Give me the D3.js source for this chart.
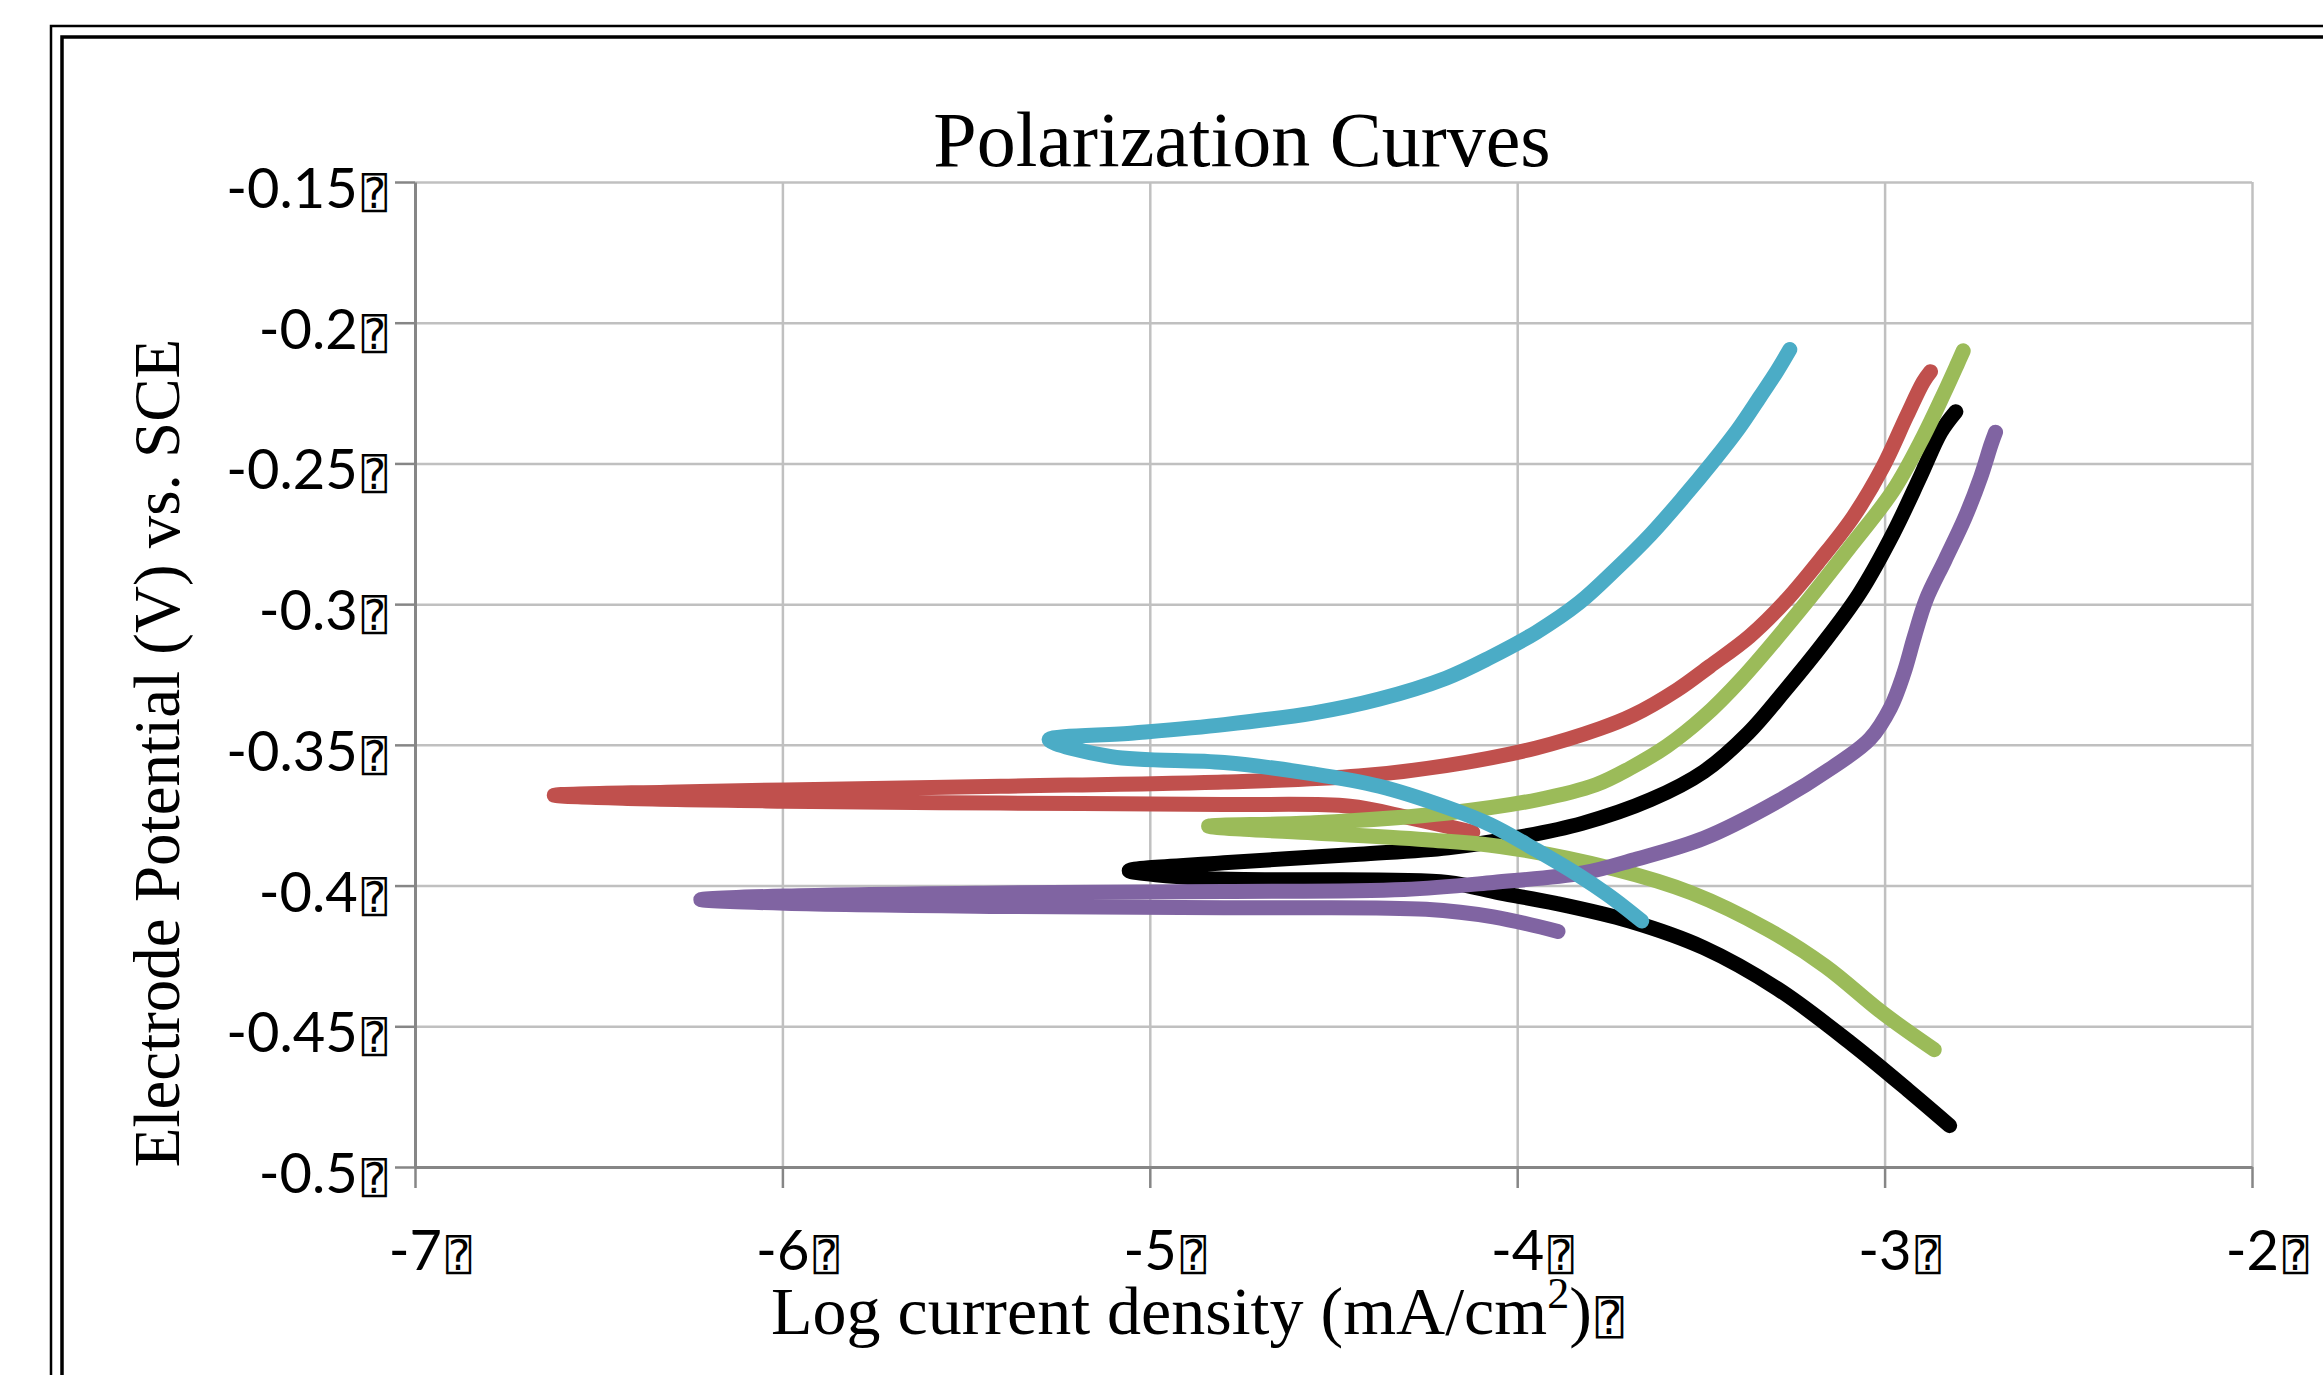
<!DOCTYPE html>
<html><head><meta charset="utf-8">
<script src="https://cdn.jsdelivr.net/npm/d3@7/dist/d3.min.js"></script>
<style>html,body{margin:0;padding:0;background:#fff;overflow:hidden}</style>
</head><body>
<svg id="chart" width="2323" height="1375" xmlns="http://www.w3.org/2000/svg"></svg>
<script>
// ---------- data ----------
const chartTitle = "Polarization Curves";
const xTitle = "Log current density (mA/cm";
const yTitle = "Electrode Potential (V) vs. SCE";
const missingGlyph = "\u2370";

const xTicks = [-7, -6, -5, -4, -3, -2];
const xTickLabels = ["-7", "-6", "-5", "-4", "-3", "-2"];
const yTicks = [-0.5, -0.45, -0.4, -0.35, -0.3, -0.25, -0.2, -0.15];
const yTickLabels = ["-0.5", "-0.45", "-0.4", "-0.35", "-0.3", "-0.25", "-0.2", "-0.15"];

// each point: [log current density, potential V vs SCE], in scan order
const curveBlack = [
  [-2.823,-0.4853],[-2.927,-0.4737],[-3.089,-0.4563],[-3.290,-0.4368],[-3.492,-0.4221],
  [-3.694,-0.4126],[-3.895,-0.4063],[-4.048,-0.4026],[-4.190,-0.3989],[-4.673,-0.3979],
  [-4.863,-0.3974],[-5.056,-0.3947],
  [-4.798,-0.3919],[-4.431,-0.3889],[-4.188,-0.3866],[-4.004,-0.3830],[-3.823,-0.3779],
  [-3.637,-0.3695],[-3.492,-0.3595],[-3.371,-0.3458],[-3.270,-0.3305],[-3.169,-0.3142],
  [-3.069,-0.2963],[-2.976,-0.2747],[-2.903,-0.2547],[-2.847,-0.2389],[-2.806,-0.2316]
];
const curveRed = [
  [-4.121,-0.3811],[-4.188,-0.3790],[-4.308,-0.3755],[-4.456,-0.3718],[-4.798,-0.3712],
  [-5.407,-0.3707],[-5.992,-0.3700],[-6.435,-0.3690],[-6.621,-0.3679],
  [-6.315,-0.3668],[-5.992,-0.3660],[-5.407,-0.3647],[-4.798,-0.3632],[-4.431,-0.3611],
  [-4.194,-0.3574],[-3.948,-0.3511],[-3.774,-0.3442],[-3.685,-0.3395],[-3.565,-0.3305],
  [-3.476,-0.3221],[-3.367,-0.3114],[-3.266,-0.2984],[-3.175,-0.2842],[-3.085,-0.2689],
  [-3.004,-0.2511],[-2.940,-0.2332],[-2.895,-0.2211],[-2.875,-0.2174]
];
const curveGreen = [
  [-2.865,-0.4583],[-3.005,-0.4453],[-3.161,-0.4287],[-3.317,-0.4157],[-3.526,-0.4026],
  [-3.734,-0.3942],[-4.046,-0.3861],[-4.248,-0.3837],[-4.552,-0.3813],[-4.742,-0.3800],
  [-4.840,-0.3789],
  [-4.552,-0.3777],[-4.188,-0.3742],[-3.944,-0.3695],[-3.786,-0.3642],[-3.694,-0.3584],
  [-3.593,-0.3505],[-3.492,-0.3400],[-3.391,-0.3268],[-3.230,-0.3021],[-3.093,-0.2795],
  [-2.976,-0.2595],[-2.895,-0.2405],[-2.839,-0.2253],[-2.802,-0.2147],[-2.786,-0.2100]
];
const curvePurple = [
  [-3.889,-0.4163],[-4.065,-0.4111],[-4.248,-0.4084],[-4.798,-0.4079],[-5.407,-0.4074],
  [-5.992,-0.4063],[-6.222,-0.4050],
  [-5.992,-0.4037],[-5.407,-0.4026],[-4.798,-0.4021],[-4.308,-0.4014],[-4.065,-0.3989],
  [-3.821,-0.3955],[-3.681,-0.3908],[-3.492,-0.3832],[-3.290,-0.3700],[-3.141,-0.3579],
  [-3.040,-0.3479],[-2.984,-0.3368],[-2.948,-0.3247],[-2.919,-0.3116],[-2.887,-0.2984],
  [-2.835,-0.2842],[-2.782,-0.2695],[-2.738,-0.2547],[-2.710,-0.2432],[-2.698,-0.2389]
];
const curveCyan = [
  [-3.661,-0.4126],[-3.706,-0.4079],[-3.754,-0.4032],[-3.827,-0.3968],[-3.948,-0.3874],
  [-4.073,-0.3784],[-4.194,-0.3721],[-4.375,-0.3647],[-4.556,-0.3603],[-4.798,-0.3563],
  [-5.105,-0.3542],[-5.274,-0.3482],
  [-5.044,-0.3458],[-4.798,-0.3428],[-4.556,-0.3387],[-4.375,-0.3337],[-4.194,-0.3263],
  [-4.073,-0.3189],[-3.948,-0.3100],[-3.831,-0.2995],[-3.730,-0.2874],[-3.637,-0.2753],
  [-3.548,-0.2621],[-3.468,-0.2495],[-3.399,-0.2379],[-3.339,-0.2263],[-3.294,-0.2174],
  [-3.258,-0.2095]
];

const seriesList = [curveBlack, curveRed, curveGreen, curvePurple, curveCyan];
const seriesColors = ["#000000", "#C0504D", "#9BBB59", "#8064A2", "#4BACC6"];

// ---------- layout ----------
const W = 2323, H = 1375;
const plot = {left: 415, right: 2252, top: 182, bottom: 1167};
const svg = d3.select("#chart");

svg.append("rect").attr("x",0).attr("y",0).attr("width",W).attr("height",H).attr("fill","#fff");

// outer frames (run off the picture at right and bottom)
svg.append("rect").attr("x",51).attr("y",26).attr("width",2400).attr("height",1500)
  .attr("fill","none").attr("stroke","#000").attr("stroke-width",2.5);
svg.append("rect").attr("x",62).attr("y",37).attr("width",2400).attr("height",1500)
  .attr("fill","none").attr("stroke","#000").attr("stroke-width",3.5);

const x = d3.scaleLinear().domain([-7, -2]).range([plot.left, plot.right]);
const y = d3.scaleLinear().domain([-0.5, -0.15]).range([plot.bottom, plot.top]);

// gridlines
const gridX = svg.append("g").attr("transform",`translate(0,${plot.bottom})`)
  .call(d3.axisBottom(x).tickValues(xTicks).tickSize(-(plot.bottom-plot.top)).tickFormat(""));
gridX.select(".domain").remove();
gridX.selectAll("line").attr("stroke","#c0c0c0").attr("stroke-width",2.5);
const gridY = svg.append("g").attr("transform",`translate(${plot.left},0)`)
  .call(d3.axisLeft(y).tickValues(yTicks).tickSize(-(plot.right-plot.left)).tickFormat(""));
gridY.select(".domain").remove();
gridY.selectAll("line").attr("stroke","#c0c0c0").attr("stroke-width",2.5);

// axes with outside ticks
const axX = svg.append("g").attr("transform",`translate(0,${plot.bottom})`)
  .call(d3.axisBottom(x).tickValues(xTicks).tickSize(21).tickSizeOuter(0).tickFormat(""));
axX.select(".domain").attr("stroke","#868686").attr("stroke-width",3);
axX.selectAll("line").attr("stroke","#868686").attr("stroke-width",2.5);
const axY = svg.append("g").attr("transform",`translate(${plot.left},0)`)
  .call(d3.axisLeft(y).tickValues(yTicks).tickSize(20).tickSizeOuter(0).tickFormat(""));
axY.select(".domain").attr("stroke","#868686").attr("stroke-width",3);
axY.selectAll("line").attr("stroke","#868686").attr("stroke-width",2.5);

// tick labels
const tickFont = "Lato, 'Open Sans', sans-serif";
const boxFont = "'DejaVu Sans Mono', 'DejaVu Sans', monospace";
yTicks.forEach((v,i) => {
  const t = svg.append("text").attr("x", plot.left - 28).attr("y", y(v) + 26)
    .attr("text-anchor","end").style("font-family", tickFont).style("font-size","56px").attr("fill","#000");
  t.append("tspan").text(yTickLabels[i]);
  t.append("tspan").style("font-family", boxFont).style("font-size","42px").attr("dx", 4).text(missingGlyph);
});
xTicks.forEach((v,i) => {
  const t = svg.append("text").attr("x", x(v) + 15).attr("y", plot.bottom + 103)
    .attr("text-anchor","middle").style("font-family", tickFont).style("font-size","56px").attr("fill","#000");
  t.append("tspan").text(xTickLabels[i]);
  t.append("tspan").style("font-family", boxFont).style("font-size","42px").attr("dx", 4).text(missingGlyph);
});

// titles
const serif = "'Liberation Serif', 'DejaVu Serif', serif";
svg.append("text").attr("x", 1242).attr("y", 166).attr("text-anchor","middle")
  .style("font-family", serif).style("font-size","78px").attr("fill","#000").text(chartTitle);

svg.append("text").attr("transform","translate(179,753) rotate(-90)").attr("text-anchor","middle")
  .style("font-family", serif).style("font-size","65px").attr("fill","#000").text(yTitle);

const xt = svg.append("text").attr("x", 771).attr("y", 1334).attr("text-anchor","start")
  .style("font-family", serif).style("font-size","68px").attr("fill","#000");
xt.append("tspan").text(xTitle);
xt.append("tspan").attr("dy", -26).style("font-size","44px").text("2");
xt.append("tspan").attr("dy", 26).text(")");
xt.append("tspan").style("font-family", boxFont).style("font-size","46px").attr("dx", 4).text(missingGlyph);

// curves
const line = d3.line().x(d => x(d[0])).y(d => y(d[1])).curve(d3.curveCatmullRom.alpha(0.5));
const curves = svg.append("g");
seriesList.forEach((s,i) => {
  curves.append("path").datum(s).attr("d", line).attr("fill","none")
    .attr("stroke", seriesColors[i]).attr("stroke-width", 15)
    .attr("stroke-linecap","round").attr("stroke-linejoin","round");
});
</script>
</body></html>
